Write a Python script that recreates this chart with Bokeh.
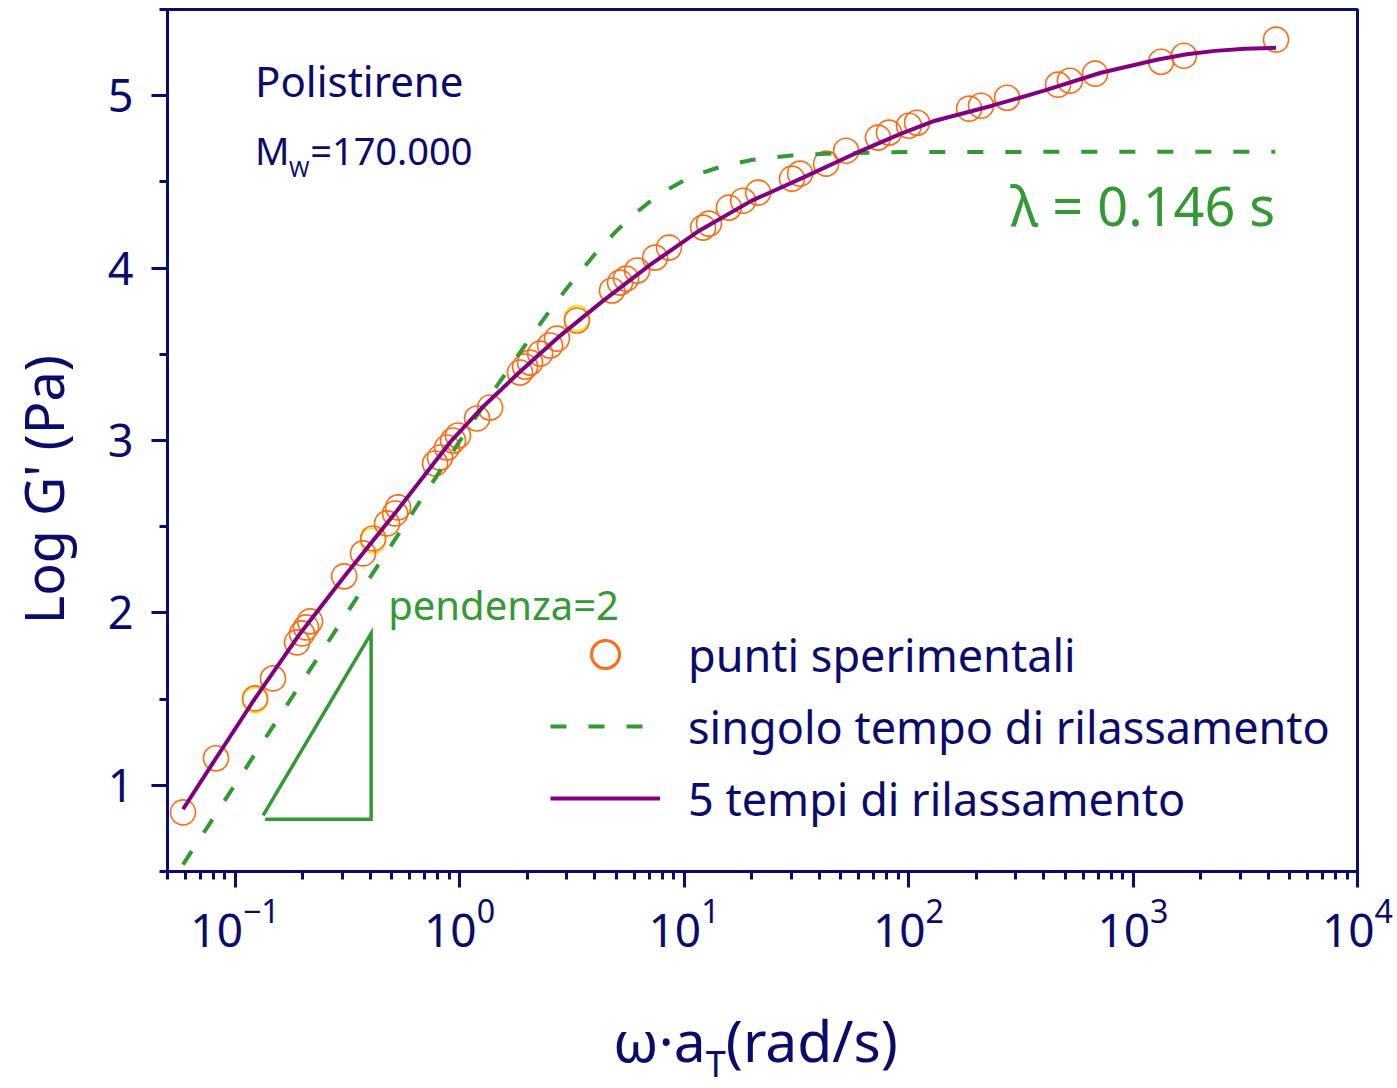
import numpy as np
from bokeh.plotting import figure
from bokeh.models import Range1d, Label, Legend, LegendItem, SingleIntervalTicker, Div
from bokeh.layouts import column
from bokeh.embed import file_html
from bokeh.resources import INLINE

# ---------------- data ----------------
# experimental points: log10(omega*aT) and log10 G'
exp_logw = [-1.232, -1.085, -0.911, -0.831, -0.724, -0.702, -0.684, -0.666, -0.514, -0.430,
            -0.385, -0.323, -0.287, -0.274, -0.109, -0.087, -0.056, -0.029, -0.007, 0.078,
            0.136, 0.269, 0.292, 0.314, 0.359, 0.403, 0.434, 0.523, 0.679, 0.715,
            0.742, 0.791, 0.871, 0.933, 1.085, 1.111, 1.200, 1.263, 1.330, 1.481,
            1.517, 1.633, 1.722, 1.864, 1.913, 2.002, 2.038, 2.270, 2.323, 2.439,
            2.666, 2.719, 2.831, 3.125, 3.227, 3.637]
exp_logG = [0.843, 1.157, 1.504, 1.620, 1.829, 1.881, 1.916, 1.951, 2.212, 2.345,
            2.432, 2.519, 2.577, 2.612, 2.867, 2.901, 2.959, 3.000, 3.029, 3.128,
            3.191, 3.394, 3.429, 3.452, 3.504, 3.551, 3.591, 3.696, 3.870, 3.916,
            3.939, 3.986, 4.061, 4.119, 4.235, 4.258, 4.351, 4.391, 4.438, 4.519,
            4.548, 4.606, 4.681, 4.757, 4.786, 4.826, 4.843, 4.925, 4.942, 4.988,
            5.064, 5.087, 5.128, 5.197, 5.232, 5.325]
# a few points drawn in yellow
yel_logw = [-0.911, -0.385, 0.523]
yel_logG = [1.494, 2.420, 3.710]

# single relaxation time model (dashed)
single_w = [0.0586, 0.1, 0.2, 0.4, 0.7, 1, 1.5, 2, 2.5, 3, 4, 5, 6, 7, 8.5, 10, 12, 15,
            20, 30, 50, 100, 1000, 4300]
single_logG = [0.540, 1.004, 1.605, 2.207, 2.689, 2.995, 3.335, 3.570, 3.746, 3.882, 4.080,
               4.216, 4.313, 4.383, 4.457, 4.508, 4.552, 4.593, 4.627, 4.653, 4.667, 4.673,
               4.675, 4.675]

# five relaxation times model (solid)
multi_logw = [-1.232, -1.085, -0.911, -0.710, -0.510, -0.278, -0.042, 0.10, 0.27, 0.45,
              0.639, 0.85, 1.071, 1.30, 1.530, 1.762, 1.967, 2.118, 2.372, 2.604,
              2.857, 3.111, 3.24, 3.365, 3.50, 3.637]
multi_logG = [0.861, 1.157, 1.504, 1.881, 2.217, 2.594, 2.990, 3.190, 3.400, 3.610,
              3.810, 4.020, 4.220, 4.390, 4.525, 4.665, 4.780, 4.855, 4.942, 5.029,
              5.133, 5.210, 5.240, 5.260, 5.273, 5.278]

# slope-2 triangle (log10 omega, log10 G')
tri_logw = [-0.875, -0.394, -0.394, -0.866]
tri_logG = [0.826, 1.881, 0.803, 0.803]

series_labels = ["punti sperimentali", "singolo tempo di rilassamento", "5 tempi di rilassamento"]

# ---------------- styling ----------------
NAVY = "#0b0b6b"
ORANGE = "#ff6a13"
YELLOW = "#ffe000"
GREEN = "#339933"
PURPLE = "#800080"
FONT = "Noto Sans"

p = figure(width=1397, height=1005, x_axis_type="log",
           x_range=Range1d(0.05, 1e4), y_range=Range1d(0.5, 5.5),
           output_backend="svg", toolbar_location=None,
           min_border_left=167, min_border_right=40, min_border_top=9, min_border_bottom=134)
p.xgrid.visible = False
p.ygrid.visible = False
p.outline_line_color = NAVY
p.outline_line_width = 3
p.outline_line_alpha = 1
p.background_fill_color = "white"
p.border_fill_color = "white"

for ax in (p.xaxis[0], p.yaxis[0]):
    ax.axis_line_color = NAVY
    ax.axis_line_width = 3
    ax.major_tick_line_color = NAVY
    ax.major_tick_line_width = 3
    ax.minor_tick_line_color = NAVY
    ax.minor_tick_line_width = 3
    ax.major_tick_in = 0
    ax.major_tick_out = 16
    ax.minor_tick_in = 0
    ax.minor_tick_out = 8
    ax.major_label_text_font = FONT
    ax.major_label_text_color = NAVY

p.xaxis.major_label_text_font_size = "46px"
p.yaxis.major_label_text_font_size = "45px"
p.yaxis.ticker = SingleIntervalTicker(interval=1, num_minor_ticks=2)
p.yaxis.major_label_standoff = 18
p.xaxis.major_label_standoff = 10
p.yaxis.axis_label = "Log G' (Pa)" + "\u00a0" * 7
p.yaxis.axis_label_text_font = FONT
p.yaxis.axis_label_text_font_size = "54px"
p.yaxis.axis_label_text_font_style = "normal"
p.yaxis.axis_label_text_color = NAVY
p.yaxis.axis_label_standoff = 25

# ---------------- glyphs ----------------
exp_w = 10 ** np.array(exp_logw)
yel_w = 10 ** np.array(yel_logw)
multi_w = 10 ** np.array(multi_logw)
tri_w = 10 ** np.array(tri_logw)

p.scatter(yel_w, yel_logG, marker="circle", size=25, fill_color=None,
          line_color=YELLOW, line_width=1.6)
p.scatter(exp_w, exp_logG, marker="circle", size=25, fill_color=None,
          line_color=ORANGE, line_width=1.6)
r_single = p.line(single_w, single_logG, line_color=GREEN, line_width=4, line_dash="16 22")
p.line(tri_w, tri_logG, line_color=GREEN, line_width=3.5, line_join="miter")
r_multi = p.line(multi_w, multi_logG, line_color=PURPLE, line_width=4)

# legend proxy for the circles (thicker ring), its only point lies outside the view
r_leg_circ = p.scatter(x=[1e-6], y=[-50], marker="circle", size=28, fill_color=None,
                       line_color=ORANGE, line_width=3)

legend = Legend(items=[LegendItem(label=series_labels[0], renderers=[r_leg_circ]),
                       LegendItem(label=series_labels[1], renderers=[r_single]),
                       LegendItem(label=series_labels[2], renderers=[r_multi])],
                location=(383, 38), orientation="vertical",
                glyph_width=110, glyph_height=70, spacing=2, padding=0, margin=0,
                label_standoff=28, label_text_font=FONT, label_text_font_size="45px",
                label_text_color=NAVY, border_line_alpha=0, background_fill_alpha=0)
p.add_layout(legend)

# ---------------- text annotations ----------------
def lab(x, y, text, size, color=NAVY, align="left", baseline="alphabetic"):
    p.add_layout(Label(x=x, y=y, text=text, text_font=FONT, text_font_size=size,
                       text_color=color, text_align=align, text_baseline=baseline))

lab(0.1227, 5.087, "Polistirene", "42px")
lab(0.1227, 4.687, "M", "38px")
lab(0.174, 4.583, "W", "22px")
lab(0.216, 4.687, "=170.000", "38px")
lab(4300, 4.368, "λ = 0.146 s", "54px", color=GREEN, align="right")
lab(0.481, 2.049, "pendenza=2", "40px", color=GREEN)

# x-axis title with subscript, as text below the plot
xtitle = Div(
    text=('<div style="padding-left:613px; margin-top:-4px; font-family:\'Noto Sans\'; '
          'font-size:57px; line-height:normal; color:%s; white-space:nowrap;">ω·a'
          '<span style="font-size:36px; position:relative; top:15px;">T</span>'
          '(rad/s)</div>') % NAVY,
    width=1397, height=83, margin=(0, 0, 0, 0))

layout = column(p, xtitle, spacing=0)

open("out.html", "w").write(file_html(layout, INLINE))
